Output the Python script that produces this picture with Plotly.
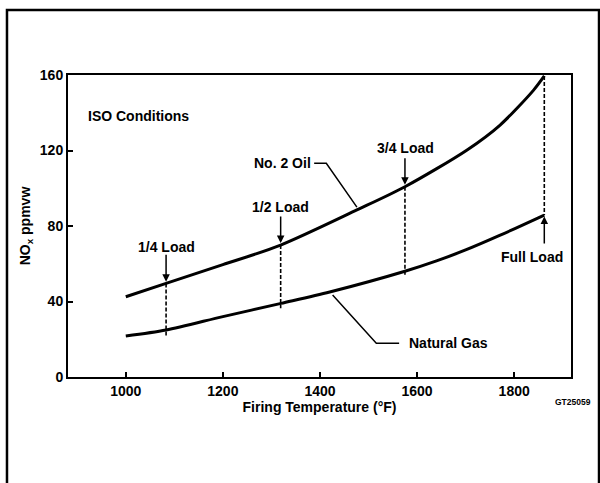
import plotly.graph_objects as go

# ---- data ----
oil_temp = [1000, 1083, 1200, 1319, 1476, 1575, 1703, 1771, 1840, 1862]
oil_nox = [42.5, 49.6, 59.5, 69.9, 88.5, 100.8, 120.3, 133.5, 152.0, 159.5]

gas_temp = [1000, 1083, 1200, 1320, 1420, 1575, 1640, 1700, 1770, 1862]
gas_nox = [21.7, 24.9, 32.0, 39.0, 45.0, 56.0, 61.5, 67.3, 75.0, 85.8]

load_names = ["1/4 Load", "1/2 Load", "3/4 Load", "Full Load"]
load_temp = [1083, 1319, 1575, 1862]
load_top = [49.6, 69.9, 100.8, 159.5]
load_bottom = [21.4, 36.4, 54.0, 85.8]

x_ticks = [1000, 1200, 1400, 1600, 1800]
y_ticks = [0, 40, 80, 120, 160]

FONT = "Liberation Sans, Arial, Helvetica, sans-serif"

fig = go.Figure()

# dashed load lines
for t, top, bot in zip(load_temp, load_top, load_bottom):
    fig.add_trace(go.Scatter(x=[t, t], y=[top, bot], mode="lines",
                             line=dict(color="black", width=1.6, dash="4px,2px"),
                             hoverinfo="skip", showlegend=False))

# curves
fig.add_trace(go.Scatter(x=oil_temp, y=oil_nox, mode="lines", name="No. 2 Oil",
                         line=dict(color="black", width=3, shape="spline", smoothing=0.8),
                         showlegend=False))
fig.add_trace(go.Scatter(x=gas_temp, y=gas_nox, mode="lines", name="Natural Gas",
                         line=dict(color="black", width=3, shape="spline", smoothing=0.8),
                         showlegend=False))

# leader lines
fig.add_trace(go.Scatter(x=[1388, 1413, 1476], y=[113.2, 113.2, 90.0], mode="lines",
                         line=dict(color="black", width=1.5), hoverinfo="skip", showlegend=False))
fig.add_trace(go.Scatter(x=[1426, 1516, 1563], y=[43.4, 17.9, 17.9], mode="lines",
                         line=dict(color="black", width=1.5), hoverinfo="skip", showlegend=False))

ann = []
# arrows (tail -> head)
arrow_tail = [65.5, 85.8, 116.7, 69.9]
arrow_head = [50.5, 71.0, 101.8, 85.0]
for t, tail, head in zip(load_temp, arrow_tail, arrow_head):
    ann.append(dict(x=t, y=head, ax=t, ay=tail, xref="x", yref="y", axref="x", ayref="y",
                    showarrow=True, arrowhead=2, arrowsize=1, arrowwidth=1.5,
                    arrowcolor="black", text=""))

label_pos = [(1083, 69.0), (1319, 89.9), (1575.5, 121.2), (1837, 63.7)]
for name, (lx, ly) in zip(load_names, label_pos):
    ann.append(dict(x=lx, y=ly, xref="x", yref="y", text="<b>" + name + "</b>",
                    showarrow=False, xanchor="center", yanchor="middle",
                    font=dict(family=FONT, size=14, color="black")))

ann.append(dict(x=1322, y=113.2, xref="x", yref="y", text="<b>No. 2 Oil</b>",
                showarrow=False, xanchor="center", yanchor="middle",
                font=dict(family=FONT, size=14, color="black")))
ann.append(dict(x=1579, y=17.9, xref="x", yref="y", text="<b>Natural Gas</b>",
                showarrow=False, xanchor="left", yanchor="middle",
                font=dict(family=FONT, size=14, color="black")))
ann.append(dict(x=918, y=138.3, xref="x", yref="y", text="<b>ISO Conditions</b>",
                showarrow=False, xanchor="left", yanchor="middle",
                font=dict(family=FONT, size=14, color="black")))
ann.append(dict(x=1.0046, y=-0.082, xref="paper", yref="paper", text="<b>GT25059</b>",
                showarrow=False, xanchor="center", yanchor="middle",
                font=dict(family=FONT, size=8.5, color="black")))

fig.update_layout(
    width=600, height=483,
    margin=dict(l=68, r=29, t=75, b=106),
    paper_bgcolor="white", plot_bgcolor="white",
    font=dict(family=FONT, color="black"),
    annotations=ann,
    shapes=[dict(type="rect", xref="paper", yref="paper",
                 x0=-0.1213, x1=1.0557, y0=-0.6, y1=1.2152,
                 line=dict(color="black", width=2.5), layer="below")],
    xaxis=dict(range=[881, 1917], tickvals=x_ticks,
               ticktext=["<b>%d</b>" % v for v in x_ticks],
               ticks="inside", ticklen=5, tickwidth=1.5, tickcolor="black",
               showline=True, linecolor="black", linewidth=2, mirror=True,
               showgrid=False, zeroline=False,
               tickfont=dict(family=FONT, size=14, color="black"),
               title=dict(text="<b>Firing Temperature (°F)</b>", standoff=4,
                          font=dict(family=FONT, size=14, color="black"))),
    yaxis=dict(range=[0, 160], tickvals=y_ticks,
               ticktext=["<b>%d</b>" % v for v in y_ticks],
               ticks="inside", ticklen=5, tickwidth=1.5, tickcolor="black",
               showline=True, linecolor="black", linewidth=2, mirror=True,
               showgrid=False, zeroline=False,
               tickfont=dict(family=FONT, size=14, color="black"),
               title=dict(text="<b>NO<sub>x</sub> ppmvw</b>", standoff=6,
                          font=dict(family=FONT, size=14, color="black"))),
)

fig.write_html("out.html",
               config={"displayModeBar": False},
               post_script="document.body.style.margin='0px';document.body.style.overflow='hidden';")
